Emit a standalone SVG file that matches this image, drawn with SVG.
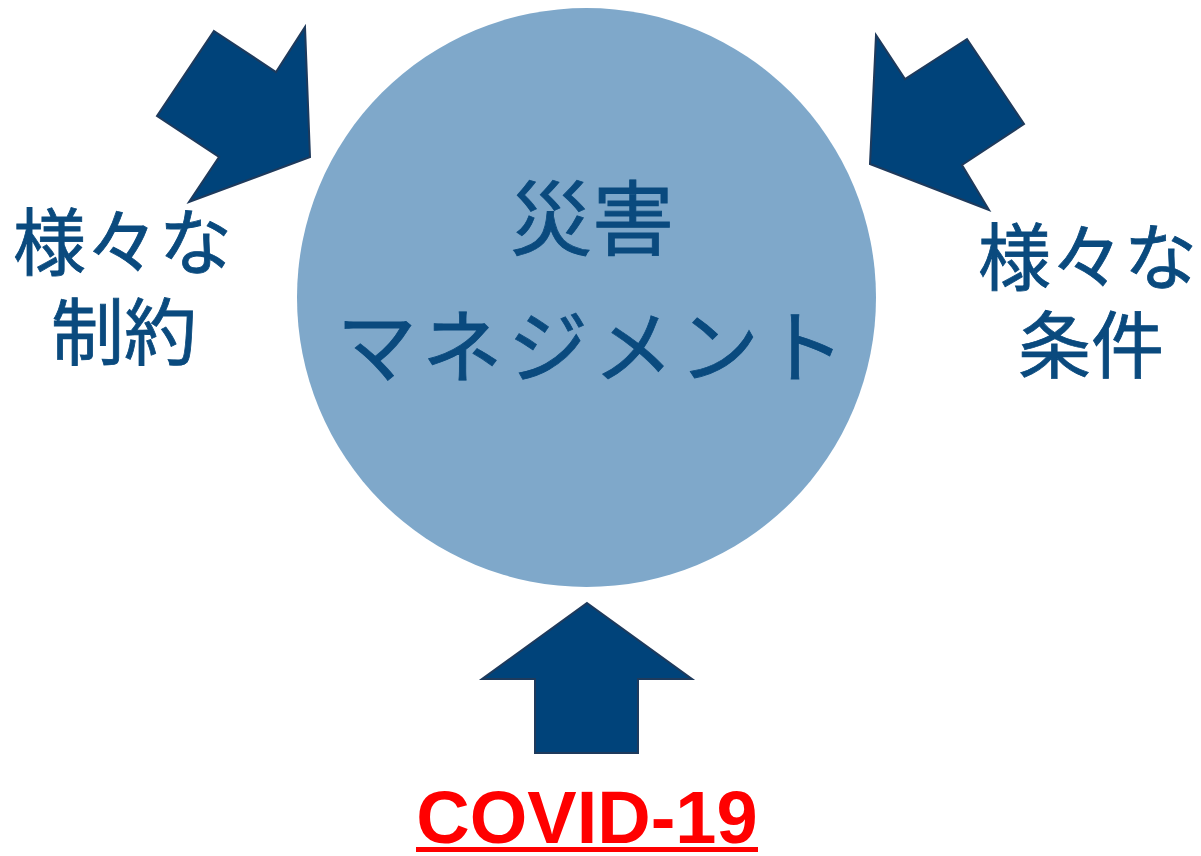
<svg xmlns="http://www.w3.org/2000/svg" width="1201" height="856" viewBox="0 0 1201 856">
<style>
.arrow{fill:#00437A;stroke:#1E3A5C;stroke-width:2;stroke-linejoin:miter}
.jp{font-family:"Noto Sans CJK JP","Noto Sans CJK SC",sans-serif;fill:#0A4A7E;stroke:#0A4A7E;stroke-width:0.8;font-size:73px;text-anchor:middle}
.covid{font-family:"Liberation Sans",Arial,sans-serif;font-weight:bold;fill:#FF0000;font-size:74px;text-anchor:middle}
</style>
<rect width="1201" height="856" fill="#FFFFFF"/>
<g id="circle">
<circle cx="586.5" cy="297.5" r="289.5" fill="#7FA8CA"/>
<text class="jp" x="592" y="249" style="font-size:82px">災害</text>
<text class="jp" x="593.5" y="376" style="font-size:80px;letter-spacing:5.6px">マネジメント</text>
</g>
<g id="connectors">
<polygon id="arrow-left" class="arrow" points="214,31 276,72 305,27 310,157 189,202 219,157 157,116"/>
<polygon id="arrow-right" class="arrow" points="876,35 905,79 967,39 1024,124 962,165 989,210 870,164"/>
<polygon id="arrow-bottom" class="arrow" points="587,603 692,679 638,679 638,753 535,753 535,679 482,679"/>
</g>
<g id="label-left">
<text class="jp" x="122.5" y="269">様々な</text>
<text class="jp" x="124" y="359">制約</text>
</g>
<g id="label-right">
<text class="jp" x="1087.5" y="284">様々な</text>
<text class="jp" x="1091" y="372">条件</text>
</g>
<g id="label-covid">
<text class="covid" x="587" y="843">COVID-19</text>
<rect x="416" y="847" width="342" height="5" fill="#FF0000"/>
</g>
</svg>
